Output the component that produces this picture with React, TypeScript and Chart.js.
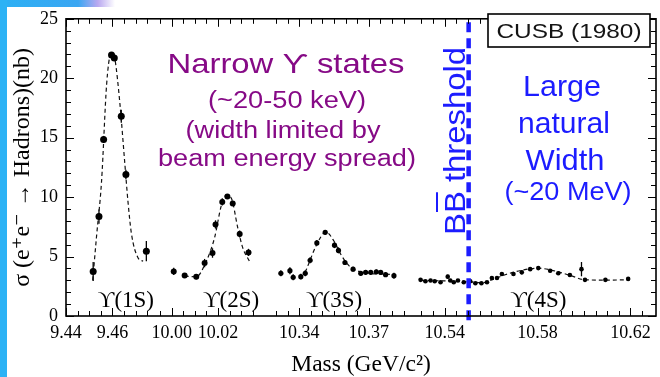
import React, { useEffect, useRef } from 'react';
import { Chart, registerables } from 'chart.js';

Chart.register(...registerables);

// ---------- data (mass in GeV, cross-section in nb) ----------
// Υ(1S) scan
const massA = [9.4517, 9.4542, 9.4562, 9.4596, 9.4608, 9.4638, 9.4658, 9.4746];
const sigmaA = [3.75, 8.36, 14.85, 21.95, 21.7, 16.8, 11.9, 5.45];
const errA = [0.8, 0.6, 0.3, 0.2, 0.2, 0.55, 0.4, 0.85];
const fitMassA = [9.4515, 9.4532, 9.4553, 9.4575, 9.4592, 9.4602, 9.461, 9.4632, 9.4653, 9.4667, 9.4682, 9.471, 9.4732];
const fitSigmaA = [3.0, 6.8, 11.3, 19.5, 22.0, 22.1, 21.7, 17.9, 12.9, 9.6, 6.9, 4.9, 4.6];

// Υ(2S) scan
const massB = [10.0009, 10.0056, 10.0106, 10.0142, 10.0176, 10.0189, 10.0218, 10.024, 10.0263, 10.0293, 10.0331];
const sigmaB = [3.75, 3.4, 3.3, 4.45, 5.3, 7.7, 9.6, 10.05, 9.46, 6.9, 5.35];
const errB = [0.3, 0.2, 0.2, 0.35, 0.4, 0.35, 0.3, 0.2, 0.2, 0.3, 0.3];
const fitMassB = [10.0056, 10.0106, 10.0149, 10.0185, 10.0214, 10.0235, 10.0257, 10.0285, 10.0306, 10.0335];
const fitSigmaB = [3.35, 3.3, 4.6, 6.6, 9.3, 10.15, 9.9, 7.4, 5.75, 4.6];

// Υ(3S) scan
const massC = [10.3321, 10.336, 10.3374, 10.3407, 10.3426, 10.3447, 10.3476, 10.3512, 10.3552, 10.3569, 10.3597, 10.3632, 10.3665, 10.3686, 10.3708, 10.3732, 10.3751, 10.3772, 10.3808];
const sigmaC = [3.59, 3.81, 3.26, 3.31, 3.59, 4.69, 6.15, 7.04, 5.96, 5.52, 4.5, 3.94, 3.59, 3.67, 3.67, 3.72, 3.67, 3.48, 3.39];
const errC = [0.25, 0.3, 0.25, 0.25, 0.25, 0.25, 0.25, 0.2, 0.25, 0.25, 0.2, 0.2, 0.2, 0.2, 0.2, 0.2, 0.2, 0.2, 0.25];
const fitMassC = [10.3426, 10.3443, 10.3472, 10.3515, 10.355, 10.3579, 10.3615, 10.3658, 10.3808];
const fitSigmaC = [3.67, 4.5, 5.88, 7.06, 6.29, 5.19, 4.22, 3.75, 3.48];

// Υ(4S) scan
const massD = [10.5296, 10.5317, 10.5339, 10.5357, 10.5382, 10.5413, 10.5424, 10.5439, 10.5457, 10.5482, 10.551, 10.5532, 10.5558, 10.5582, 10.5603, 10.5625, 10.5646, 10.5696, 10.5732, 10.5768, 10.5803, 10.5854, 10.5889, 10.5939, 10.5989, 10.6004, 10.6092, 10.619];
const sigmaD = [3.04, 2.92, 2.98, 2.92, 2.84, 3.31, 2.98, 2.84, 2.98, 2.84, 2.92, 2.76, 2.76, 2.84, 3.2, 3.2, 3.53, 3.53, 3.67, 3.94, 4.03, 3.81, 3.59, 3.45, 3.94, 3.04, 3.04, 3.12];
const errD = [0.1, 0.1, 0.1, 0.1, 0.1, 0.15, 0.1, 0.1, 0.1, 0.1, 0.1, 0.1, 0.1, 0.1, 0.15, 0.15, 0.15, 0.15, 0.15, 0.15, 0.15, 0.15, 0.15, 0.15, 0.6, 0.15, 0.15, 0.15];
const fitMassD = [10.5296, 10.54, 10.55, 10.556, 10.5605, 10.565, 10.57, 10.575, 10.58, 10.585, 10.59, 10.595, 10.6, 10.61, 10.619];
const fitSigmaD = [3.0, 2.95, 2.88, 2.8, 3.05, 3.4, 3.7, 3.92, 4.02, 3.9, 3.65, 3.35, 3.05, 3.02, 3.05];

const thresholdMass = 10.5503;

const xTickMasses = [9.44, 9.46, 10.0, 10.02, 10.34, 10.37, 10.54, 10.58, 10.62];
const xTickLabels = ['9.44', '9.46', '10.00', '10.02', '10.34', '10.37', '10.54', '10.58', '10.62'];
const yMin = 0;
const yMax = 25;
const yStep = 5;

const stateLabels = ['ϒ(1S)', 'ϒ(2S)', 'ϒ(3S)', 'ϒ(4S)'];
const stateLabelMass = [9.4658, 10.0256, 10.355, 10.5803];

// ---------- broken x axis layout ----------
const PX_PER_GEV = 2330;
const SEGMENTS = [
  { m0: 9.44, u0: 0, from: 9.44, to: 9.475 },
  { m0: 10.0, u0: 106, from: 9.995, to: 10.035 },
  { m0: 10.34, u0: 234, from: 10.33, to: 10.385 },
  { m0: 10.54, u0: 380, from: 10.53, to: 10.625 },
];
const segOf = (m: number) => (m < 9.8 ? SEGMENTS[0] : m < 10.2 ? SEGMENTS[1] : m < 10.45 ? SEGMENTS[2] : SEGMENTS[3]);
const toU = (m: number) => {
  const s = segOf(m);
  return s.u0 + (m - s.m0) * PX_PER_GEV;
};
const minorTickMasses: number[] = [];
SEGMENTS.forEach((s) => {
  for (let m = s.from; m <= s.to + 1e-9; m += 0.005) minorTickMasses.push(+m.toFixed(3));
});

const SERIF = '"Liberation Serif", "DejaVu Serif", "Times New Roman", serif';
const SANS = '"Liberation Sans", Arial, "DejaVu Sans", sans-serif';
const PURPLE = '#860a86';
const BLUE = '#1c1cff';

const pts = (ms: number[], vs: number[]) => ms.map((m, i) => ({ x: toU(m), y: vs[i] }));

function fitText(ctx: CanvasRenderingContext2D, text: string, cx: number, base: number, font: string, color: string, width: number) {
  ctx.save();
  ctx.font = font;
  const w = ctx.measureText(text).width;
  ctx.translate(cx, base);
  ctx.scale(width / w, 1);
  ctx.textAlign = 'center';
  ctx.textBaseline = 'alphabetic';
  ctx.fillStyle = color;
  ctx.fillText(text, 0, 0);
  ctx.restore();
}

const backgroundPlugin = {
  id: 'bgDeco',
  beforeDraw(chart: any) {
    const { ctx, width, height } = chart;
    ctx.save();
    ctx.fillStyle = '#ffffff';
    ctx.fillRect(0, 0, width, height);
    const g = ctx.createLinearGradient(0, 0, 115, 0);
    g.addColorStop(0, '#2cb0f4');
    g.addColorStop(0.68, '#3aa6f2');
    g.addColorStop(0.85, '#b9a8f0');
    g.addColorStop(1, 'rgba(255,255,255,1)');
    ctx.fillStyle = g;
    ctx.fillRect(0, 0, 115, 7);
    ctx.fillStyle = '#2cb2f5';
    ctx.fillRect(0, 0, 7, height);
    ctx.restore();
  },
};

const errorBarPlugin = {
  id: 'errBars',
  beforeDatasetsDraw(chart: any) {
    const { ctx } = chart;
    const xs = chart.scales.x;
    const ys = chart.scales.y;
    ctx.save();
    ctx.strokeStyle = '#000';
    ctx.lineWidth = 1.3;
    chart.data.datasets.forEach((ds: any) => {
      if (!ds.errors) return;
      ds.data.forEach((p: any, i: number) => {
        const e = ds.errors[i];
        const px = xs.getPixelForValue(p.x);
        ctx.beginPath();
        ctx.moveTo(px, ys.getPixelForValue(p.y - e));
        ctx.lineTo(px, ys.getPixelForValue(p.y + e));
        ctx.stroke();
      });
    });
    ctx.restore();
  },
};

const framePlugin = {
  id: 'frameTicks',
  afterDatasetsDraw(chart: any) {
    const { ctx, chartArea } = chart;
    const { left, right, top, bottom } = chartArea;
    const xs = chart.scales.x;
    const ys = chart.scales.y;
    ctx.save();
    ctx.strokeStyle = '#000';
    ctx.lineWidth = 1;
    ctx.beginPath();
    minorTickMasses.forEach((m) => {
      const px = Math.round(xs.getPixelForValue(toU(m))) + 0.5;
      const major = xTickMasses.some((t) => Math.abs(t - m) < 1e-6);
      const len = major ? 8 : 5;
      ctx.moveTo(px, bottom);
      ctx.lineTo(px, bottom - len);
      ctx.moveTo(px, top);
      ctx.lineTo(px, top + len);
    });
    for (let v = yMin; v <= yMax; v += 1) {
      const py = Math.round(ys.getPixelForValue(v)) + 0.5;
      const len = v % yStep === 0 ? 8 : 5;
      ctx.moveTo(left, py);
      ctx.lineTo(left + len, py);
      ctx.moveTo(right, py);
      ctx.lineTo(right - len, py);
    }
    ctx.stroke();
    ctx.lineWidth = 1.6;
    ctx.strokeRect(left, top, right - left, bottom - top);
    ctx.restore();
  },
};

const annotationPlugin = {
  id: 'annotations',
  afterDraw(chart: any) {
    const { ctx } = chart;
    const xs = chart.scales.x;
    const ys = chart.scales.y;

    // state labels
    ctx.save();
    ctx.font = `23px ${SERIF}`;
    ctx.fillStyle = '#000';
    ctx.textAlign = 'center';
    ctx.textBaseline = 'alphabetic';
    stateLabels.forEach((t, i) => {
      ctx.fillText(t, xs.getPixelForValue(toU(stateLabelMass[i])), ys.getPixelForValue(0.75));
    });
    ctx.restore();

    // purple annotation
    fitText(ctx, 'Narrow ϒ states', 286, 73, `28px ${SANS}`, PURPLE, 237);
    fitText(ctx, '(~20-50 keV)', 287, 108, `23px ${SANS}`, PURPLE, 158);
    fitText(ctx, '(width limited by', 283, 138, `23px ${SANS}`, PURPLE, 195);
    fitText(ctx, 'beam energy spread)', 287, 166, `23px ${SANS}`, PURPLE, 258);

    // blue annotation
    fitText(ctx, 'Large', 562, 96, `30px ${SANS}`, BLUE, 78);
    fitText(ctx, 'natural', 564, 133, `30px ${SANS}`, BLUE, 92);
    fitText(ctx, 'Width', 565, 170, `30px ${SANS}`, BLUE, 79);
    fitText(ctx, '(~20 MeV)', 568, 200, `26px ${SANS}`, BLUE, 127);

    // vertical threshold label
    ctx.save();
    ctx.translate(465, 141);
    ctx.rotate(-Math.PI / 2);
    ctx.font = `30px ${SANS}`;
    const label = 'BB threshold';
    const w = ctx.measureText(label).width;
    const s = 188 / w;
    const bw = ctx.measureText('B').width;
    ctx.scale(s, 1);
    ctx.fillStyle = BLUE;
    ctx.textAlign = 'left';
    ctx.textBaseline = 'alphabetic';
    ctx.fillText(label, -w / 2, 0);
    ctx.strokeStyle = BLUE;
    ctx.lineWidth = 2;
    ctx.beginPath();
    ctx.moveTo(-w / 2 + bw + 1, -28);
    ctx.lineTo(-w / 2 + 2 * bw - 1, -28);
    ctx.stroke();
    ctx.restore();

    // CUSB box
    ctx.save();
    ctx.fillStyle = '#fff';
    ctx.fillRect(488, 14, 162, 33);
    ctx.strokeStyle = '#000';
    ctx.lineWidth = 1.6;
    ctx.strokeRect(488, 14, 162, 33);
    ctx.restore();
    fitText(ctx, 'CUSB (1980)', 569, 38, `21px ${SANS}`, '#141414', 145);
  },
};

export default function App() {
  const ref = useRef<HTMLCanvasElement>(null);
  useEffect(() => {
    const canvas = ref.current;
    if (!canvas) return;
    const pointDs = (ms: number[], vs: number[], es: number[], r: number) => ({
      data: pts(ms, vs),
      errors: es,
      showLine: false,
      pointRadius: r,
      pointBackgroundColor: '#000',
      pointBorderWidth: 0,
      order: 1,
    });
    const fitDs = (ms: number[], vs: number[]) => ({
      data: pts(ms, vs),
      showLine: true,
      borderColor: '#111',
      borderWidth: 1.2,
      borderDash: [4, 3],
      pointRadius: 0,
      cubicInterpolationMode: 'monotone',
      order: 2,
    });
    const chart = new Chart(canvas, {
      type: 'scatter',
      data: {
        datasets: [
          fitDs(fitMassA, fitSigmaA),
          fitDs(fitMassB, fitSigmaB),
          fitDs(fitMassC, fitSigmaC),
          fitDs(fitMassD, fitSigmaD),
          pointDs(massA, sigmaA, errA, 3.5),
          pointDs(massB, sigmaB, errB, 3),
          pointDs(massC, sigmaC, errC, 2.6),
          pointDs(massD, sigmaD, errD, 2.3),
          {
            data: [
              { x: toU(thresholdMass), y: 24.7 },
              { x: toU(thresholdMass), y: -0.45 },
            ],
            showLine: true,
            borderColor: BLUE,
            borderWidth: 4.5,
            borderDash: [10, 6],
            pointRadius: 0,
            clip: false,
            order: 0,
          },
        ] as any,
      },
      options: {
        responsive: false,
        animation: false,
        devicePixelRatio: 1,
        layout: { padding: { top: 14, right: 2, left: 0, bottom: 0 } },
        plugins: { legend: { display: false }, tooltip: { enabled: false } },
        scales: {
          x: {
            type: 'linear',
            min: 0,
            max: 592,
            grid: { display: false, drawTicks: false },
            border: { display: false },
            afterBuildTicks: (s: any) => {
              s.ticks = xTickMasses.map((m) => ({ value: toU(m) }));
            },
            afterFit: (s: any) => {
              s.height = 61;
            },
            ticks: {
              autoSkip: false,
              maxRotation: 0,
              padding: 6,
              color: '#000',
              font: { family: SERIF, size: 18 },
              callback: (_v: any, i: number) => xTickLabels[i],
            },
            title: {
              display: true,
              text: 'Mass (GeV/c²)',
              color: '#000',
              font: { family: SERIF, size: 23.5, lineHeight: 1 },
              padding: { top: 0, bottom: 0 },
            },
          },
          y: {
            type: 'linear',
            min: yMin,
            max: yMax,
            grid: { display: false, drawTicks: false },
            border: { display: false },
            afterFit: (s: any) => {
              s.width = 66;
            },
            ticks: {
              stepSize: yStep,
              padding: 8,
              color: '#000',
              font: { family: SERIF, size: 18 },
            },
            title: {
              display: true,
              text: 'σ (e⁺e⁻ → Hadrons)(nb)',
              color: '#000',
              font: { family: SERIF, size: 24, lineHeight: 1.2 },
              padding: { top: 8, bottom: 0 },
            },
          },
        },
      } as any,
      plugins: [backgroundPlugin, errorBarPlugin, framePlugin, annotationPlugin],
    });
    return () => chart.destroy();
  }, []);
  return (
    <div style={{ position: 'fixed', left: 0, top: 0, width: 660, height: 377, background: '#fff' }}>
      <canvas ref={ref} width={660} height={377} style={{ display: 'block', width: 660, height: 377 }} />
    </div>
  );
}
